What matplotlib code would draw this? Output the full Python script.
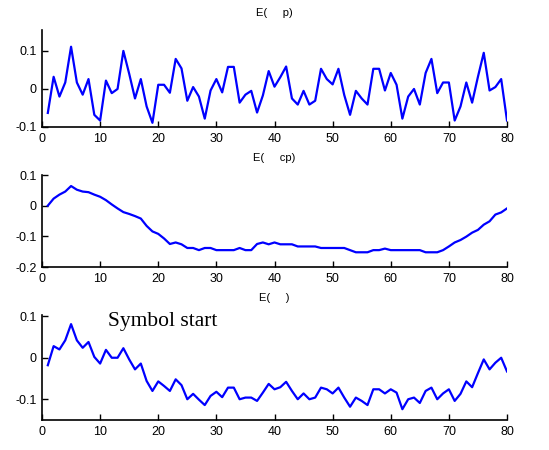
import matplotlib
matplotlib.use("Agg")
import matplotlib.pyplot as plt
from matplotlib.ticker import FuncFormatter

x = list(range(1, 81))

e_p = [-0.063, 0.032, -0.020, 0.017, 0.111, 0.017, -0.015, 0.026, -0.068, -0.083,
       0.022, -0.011, 0.000, 0.100, 0.040, -0.025, 0.026, -0.046, -0.089, 0.011,
       0.011, -0.010, 0.079, 0.054, -0.031, 0.005, -0.020, -0.078, -0.004, 0.026,
       -0.009, 0.058, 0.058, -0.036, -0.015, -0.005, -0.062, -0.017, 0.047, 0.006,
       0.031, 0.059, -0.025, -0.041, -0.005, -0.041, -0.031, 0.053, 0.026, 0.012,
       0.053, -0.016, -0.068, -0.005, -0.025, -0.041, 0.053, 0.053, -0.004, 0.042,
       0.011, -0.078, -0.020, 0.000, -0.041, 0.042, 0.079, -0.011, 0.017, 0.017,
       -0.083, -0.046, 0.017, -0.036, 0.032, 0.095, -0.004, 0.005, 0.026, -0.083]

e_cp = [0.000, 0.023, 0.036, 0.046, 0.064, 0.052, 0.046, 0.044, 0.036, 0.029,
        0.018, 0.004, -0.009, -0.021, -0.027, -0.034, -0.042, -0.066, -0.084, -0.092,
        -0.107, -0.125, -0.120, -0.126, -0.138, -0.138, -0.145, -0.138, -0.138, -0.145,
        -0.145, -0.145, -0.145, -0.138, -0.145, -0.145, -0.125, -0.120, -0.126, -0.120,
        -0.126, -0.126, -0.126, -0.133, -0.133, -0.133, -0.133, -0.138, -0.138, -0.138,
        -0.138, -0.138, -0.145, -0.152, -0.152, -0.152, -0.145, -0.145, -0.140, -0.145,
        -0.145, -0.145, -0.145, -0.145, -0.145, -0.152, -0.152, -0.152, -0.145, -0.133,
        -0.120, -0.112, -0.101, -0.088, -0.079, -0.062, -0.051, -0.029, -0.022, -0.009]

e_s = [-0.018, 0.028, 0.020, 0.042, 0.081, 0.042, 0.024, 0.038, 0.002, -0.014,
       0.019, 0.000, 0.000, 0.023, -0.004, -0.028, -0.014, -0.056, -0.080, -0.057,
       -0.068, -0.080, -0.052, -0.066, -0.100, -0.087, -0.101, -0.114, -0.092, -0.082,
       -0.095, -0.072, -0.072, -0.100, -0.096, -0.096, -0.104, -0.084, -0.063, -0.076,
       -0.071, -0.058, -0.080, -0.100, -0.086, -0.100, -0.096, -0.072, -0.076, -0.086,
       -0.072, -0.096, -0.118, -0.096, -0.104, -0.114, -0.076, -0.076, -0.086, -0.076,
       -0.084, -0.124, -0.100, -0.096, -0.109, -0.080, -0.072, -0.100, -0.086, -0.076,
       -0.104, -0.087, -0.057, -0.071, -0.037, -0.004, -0.028, -0.012, 0.000, -0.033]

titles = ["E(     p)", "E(     cp)", "E(     )"]
series = [e_p, e_cp, e_s]
ylims = [(-0.1, 0.155), (-0.2, 0.1), (-0.15, 0.103)]
yticks = [[-0.1, 0, 0.1], [-0.2, -0.1, 0, 0.1], [-0.1, 0, 0.1]]
xticks = list(range(0, 81, 10))

# axes rectangles in pixels: (left, top, right, bottom)
W, H = 549, 450
rects = [(42, 30, 507, 127), (42, 175, 507, 267), (42, 315, 507, 420)]

plt.rcParams['font.family'] = ['Liberation Sans', 'DejaVu Sans']
fig = plt.figure(figsize=(W / 100, H / 100), dpi=100)

fmt = FuncFormatter(lambda v, p: "0" if abs(v) < 1e-9 else ("%g" % v).replace("\u2212", "-"))

for i, (l, t, r, b) in enumerate(rects):
    ax = fig.add_axes([l / W, 1 - b / H, (r - l) / W, (b - t) / H])
    ax.plot(x, series[i], color="#0000ff", lw=1.6)
    ax.set_xlim(0, 80)
    ax.set_ylim(*ylims[i])
    ax.set_xticks(xticks)
    ax.set_yticks(yticks[i])
    ax.yaxis.set_major_formatter(fmt)
    for s in ["top", "right"]:
        ax.spines[s].set_visible(False)
    for s in ["left", "bottom"]:
        ax.spines[s].set_linewidth(1.2)
    ax.tick_params(direction="in", length=4, width=1, labelsize=9, pad=4)
    ax.set_title(titles[i], fontsize=8, pad=10)
    if i == 2:
        ax.text(11.3, 0.087, "Symbol start", fontsize=15.5,
                family=["Liberation Serif", "DejaVu Serif"], va="center", ha="left")

fig.savefig("out.png", dpi=100)
